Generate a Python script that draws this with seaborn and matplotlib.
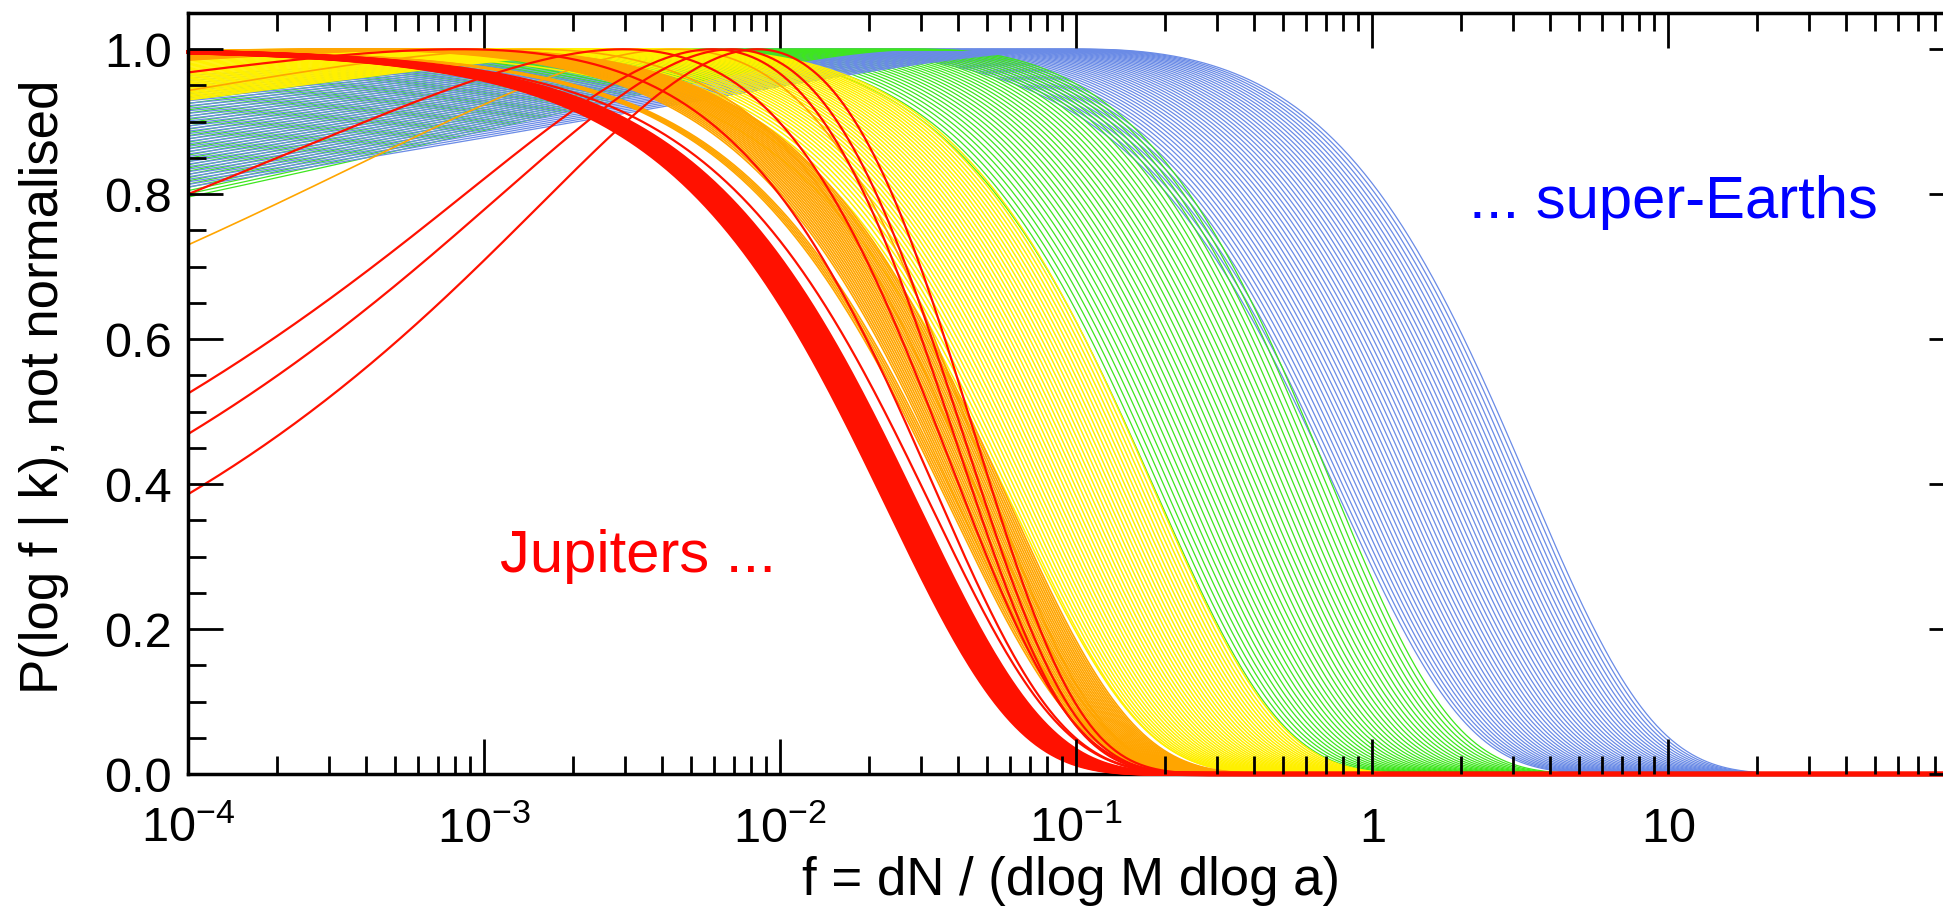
import numpy as np
import pandas as pd
import matplotlib
matplotlib.use("Agg")
import matplotlib.pyplot as plt
import seaborn as sns
from matplotlib.ticker import MultipleLocator, LogLocator, NullFormatter

# values for each band of curves:
# f where the curves cross P = 0.45 (first, last), P at f = 1e-4 (first, last), number of curves
blue_f45 = [0.65, 3.0]
blue_left = [0.964, 0.81]
blue_n = 45

green_f45 = [0.16, 0.65]
green_left = [0.943, 0.796]
green_n = 34

yellow_f45 = [0.049, 0.159]
yellow_left = [1.0, 0.93]
yellow_n = 40

orange_f45 = [0.030, 0.049]
orange_left = [1.0, 0.985]
orange_n = 30
# two single orange curves that start lower
orange_extra_f45 = [0.040, 0.046]
orange_extra_left = [0.943, 0.73]

red_band_f45 = [0.0185, 0.0234]
red_band_left = [1.0, 1.0]
red_band_n = 14

# single red curves
red_f45 = [0.026, 0.029, 0.036, 0.040, 0.043, 0.047]
red_left = [1.0, 0.968, 0.80, 0.525, 0.469, 0.386]

LEVEL = 0.45
F_LEFT = 1e-4


def shape(x, k):
    # peak normalised (x^k e^-x), peak = 1 at x = k
    if k <= 0:
        return np.exp(-x)
    return np.exp(k * (np.log(x / k) + 1.0) - x)


def x_at_level(k):
    lo, hi = max(k, 1e-9), 60.0
    for _ in range(60):
        mid = 0.5 * (lo + hi)
        if shape(mid, k) > LEVEL:
            lo = mid
        else:
            hi = mid
    return lo


def left_value(k, f45):
    c = x_at_level(k) / f45
    return float(shape(F_LEFT * c, k)), c


def fit_curve(y_left, f45):
    # find k, c so the curve goes through both points
    y0, c0 = left_value(0.0, f45)
    if y_left >= y0:
        return 0.0, c0
    lo, hi = 0.0, 3.0
    for _ in range(50):
        mid = 0.5 * (lo + hi)
        if left_value(mid, f45)[0] > y_left:
            lo = mid
        else:
            hi = mid
    return lo, left_value(lo, f45)[1]


f = np.logspace(-4, 2, 700)
rows = []
cid = 0


def add_band(name, f45s, lefts):
    global cid
    for a, b in zip(f45s, lefts):
        k, c = fit_curve(b, a)
        rows.append(pd.DataFrame({"family": name, "curve": cid, "f": f, "P": shape(f * c, k)}))
        cid += 1


add_band("blue", np.geomspace(*blue_f45, blue_n), np.linspace(*blue_left, blue_n))
add_band("green", np.geomspace(*green_f45, green_n), np.linspace(*green_left, green_n))
add_band("yellow", np.geomspace(*yellow_f45, yellow_n), np.linspace(*yellow_left, yellow_n))
add_band("orange", np.geomspace(*orange_f45, orange_n), np.linspace(*orange_left, orange_n))
add_band("orange", orange_extra_f45, orange_extra_left)
add_band("redband", np.geomspace(*red_band_f45, red_band_n), np.linspace(*red_band_left, red_band_n))
add_band("red", red_f45, red_left)
df = pd.concat(rows, ignore_index=True)

styles = {
    "blue": ("#6a8be6", 0.9),
    "green": ("#3ee61e", 0.9),
    "yellow": ("#fff000", 1.1),
    "orange": ("#ffa500", 1.2),
    "redband": ("#ff1100", 3.0),
    "red": ("#ff1100", 1.6),
}

sns.set_style("ticks")
plt.rcParams["font.family"] = ["Liberation Sans", "DejaVu Sans"]
plt.rcParams["mathtext.fontset"] = "custom"
plt.rcParams["mathtext.rm"] = "Liberation Sans"
plt.rcParams["mathtext.default"] = "regular"
for key in ["text.color", "axes.labelcolor", "xtick.color", "ytick.color", "axes.edgecolor"]:
    plt.rcParams[key] = "black"

fig = plt.figure(figsize=(19.43, 9.08), dpi=100)
ax = fig.add_axes([188 / 1943, 1 - 774 / 908, (1964 - 188) / 1943, (774 - 13) / 908])
ax.set_xscale("log")

# blue and green are drawn in turn so both stay visible where they overlap
blue_ids = df.loc[df["family"] == "blue", "curve"].unique()
green_ids = df.loc[df["family"] == "green", "curve"].unique()
order = []
for i in range(max(len(blue_ids), len(green_ids))):
    if i < len(blue_ids):
        order.append(blue_ids[i])
    if i < len(green_ids):
        order.append(green_ids[i])
for c in order:
    sub = df[df["curve"] == c]
    col, lw = styles[sub["family"].iloc[0]]
    sns.lineplot(data=sub, x="f", y="P", estimator=None, sort=False,
                 color=col, lw=lw, ax=ax, legend=False, clip_on=False, zorder=2)

for name in ["yellow", "orange", "redband", "red"]:
    col, lw = styles[name]
    sub = df[df["family"] == name]
    sns.lineplot(data=sub, x="f", y="P", units="curve", estimator=None, sort=False,
                 color=col, lw=lw, ax=ax, legend=False, clip_on=False, zorder=2)

ax.set_xlim(1e-4, 100)
ax.set_ylim(0, 1.05)
ax.set_axisbelow(False)
ax.spines["bottom"].set_zorder(1.9)
for s in ax.spines.values():
    s.set_linewidth(2.5)

xt = [1e-4, 1e-3, 1e-2, 1e-1, 1, 10]
xl = ["$10^{-4}$", "$10^{-3}$", "$10^{-2}$", "$10^{-1}$", "$1$", "$10$"]
ax.set_xticks(xt, xl)
ax.xaxis.set_minor_locator(LogLocator(base=10, subs=np.arange(2, 10)))
ax.xaxis.set_minor_formatter(NullFormatter())
ax.set_yticks([0, 0.2, 0.4, 0.6, 0.8, 1.0], ["0.0", "0.2", "0.4", "0.6", "0.8", "1.0"])
ax.yaxis.set_minor_locator(MultipleLocator(0.05))

ax.tick_params(which="both", direction="in", top=True, right=True, width=2, labelsize=35)
ax.tick_params(which="major", length=25)
ax.tick_params(which="minor", length=13)
ax.tick_params(axis="x", which="major", pad=49)
ax.tick_params(axis="y", which="major", pad=11.5)
for t in ax.get_xticklabels():
    t.set_verticalalignment("baseline")

ax.set_xlabel("f = dN / (dlog M dlog a)", fontsize=38)
ax.xaxis.label.set_va("baseline")
ax.xaxis.set_label_coords(0.497, -0.159)
ax.set_ylabel("P(log f | k), not normalised", fontsize=38)
ax.yaxis.label.set_va("baseline")
ax.yaxis.set_label_coords(-0.0732, 0.5085)

fig.text(500 / 1943, 1 - 572 / 908, "Jupiters ...", color="#ff0000", fontsize=43, va="baseline")
fig.text(1469 / 1943, 1 - 218 / 908, "... super-Earths", color="#0000ff", fontsize=43, va="baseline")

fig.savefig("out.png", dpi=100)
